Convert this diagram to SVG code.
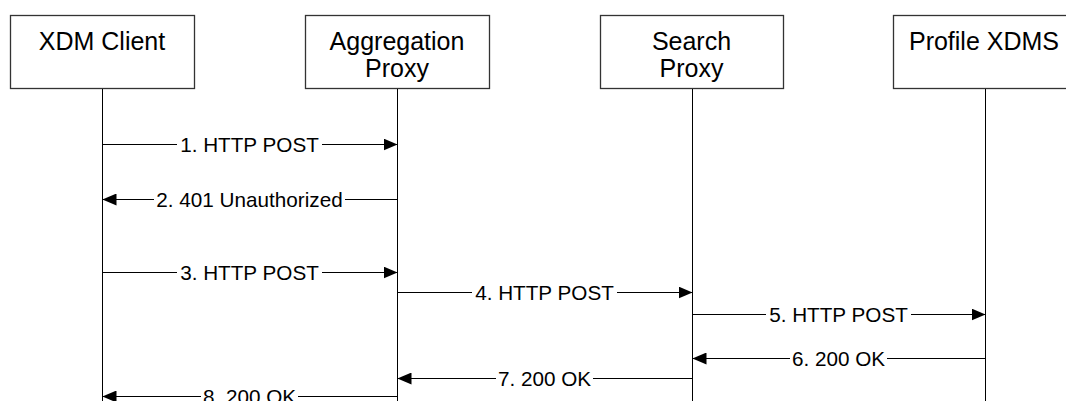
<svg xmlns="http://www.w3.org/2000/svg" width="1066" height="401" viewBox="0 0 1066 401">
<style>
.box{fill:#fff;stroke:#333;stroke-width:1.3}
.life{stroke:#000;stroke-width:1;fill:none}
.msg{stroke:#000;stroke-width:1;fill:none;marker-end:url(#arr)}
.bt{font-family:"Liberation Sans",Arial,sans-serif;font-size:25px;fill:#000;text-anchor:middle}
.mt{font-family:"Liberation Sans",Arial,sans-serif;font-size:20.7px;fill:#000;text-anchor:middle}
</style>
<defs>
<marker id="arr" markerUnits="userSpaceOnUse" markerWidth="14" markerHeight="12" refX="14" refY="6" orient="auto">
<path d="M0,0 L14,6 L0,12 z" fill="#000"/>
</marker>
</defs>
<g id="xdm-client">
<rect class="box" x="10.5" y="15.5" width="184" height="73"/>
<text class="bt" x="102" y="50">XDM Client</text>
</g>
<g id="aggregation-proxy">
<rect class="box" x="305.5" y="15.5" width="184" height="73"/>
<text class="bt" x="397" y="50">Aggregation</text>
<text class="bt" x="397" y="77">Proxy</text>
</g>
<g id="search-proxy">
<rect class="box" x="600.5" y="15.5" width="183" height="73"/>
<text class="bt" x="691.5" y="50">Search</text>
<text class="bt" x="691.5" y="77">Proxy</text>
</g>
<g id="profile-xdms">
<rect class="box" x="893.5" y="15.5" width="184" height="73"/>
<text class="bt" x="984" y="50">Profile XDMS</text>
</g>
<g id="lifelines">
<line class="life" x1="102.5" y1="89" x2="102.5" y2="401"/>
<line class="life" x1="397.5" y1="89" x2="397.5" y2="401"/>
<line class="life" x1="692.5" y1="89" x2="692.5" y2="401"/>
<line class="life" x1="985.5" y1="89" x2="985.5" y2="401"/>
</g>
<g id="connectors">
<path class="msg" d="M102.5 144.5H177M322 144.5H397.5"/>
<text class="mt" x="249.5" y="152">1. HTTP POST</text>
<path class="msg" d="M397.5 199.5H345M154 199.5H102.5"/>
<text class="mt" x="249.5" y="207">2. 401 Unauthorized</text>
<path class="msg" d="M102.5 272.5H177M322 272.5H397.5"/>
<text class="mt" x="249.5" y="280">3. HTTP POST</text>
<path class="msg" d="M397.5 292.5H472M617 292.5H692.5"/>
<text class="mt" x="544.5" y="300">4. HTTP POST</text>
<path class="msg" d="M692.5 314.5H766M911 314.5H985.5"/>
<text class="mt" x="838.5" y="322">5. HTTP POST</text>
<path class="msg" d="M985.5 358.5H887M790 358.5H692.5"/>
<text class="mt" x="838.5" y="366">6. 200 OK</text>
<path class="msg" d="M692.5 378.5H593M496 378.5H397.5"/>
<text class="mt" x="544.5" y="386">7. 200 OK</text>
<path class="msg" d="M397.5 396.5H298M201 396.5H102.5"/>
<text class="mt" x="249.5" y="404">8. 200 OK</text>
</g>
</svg>
